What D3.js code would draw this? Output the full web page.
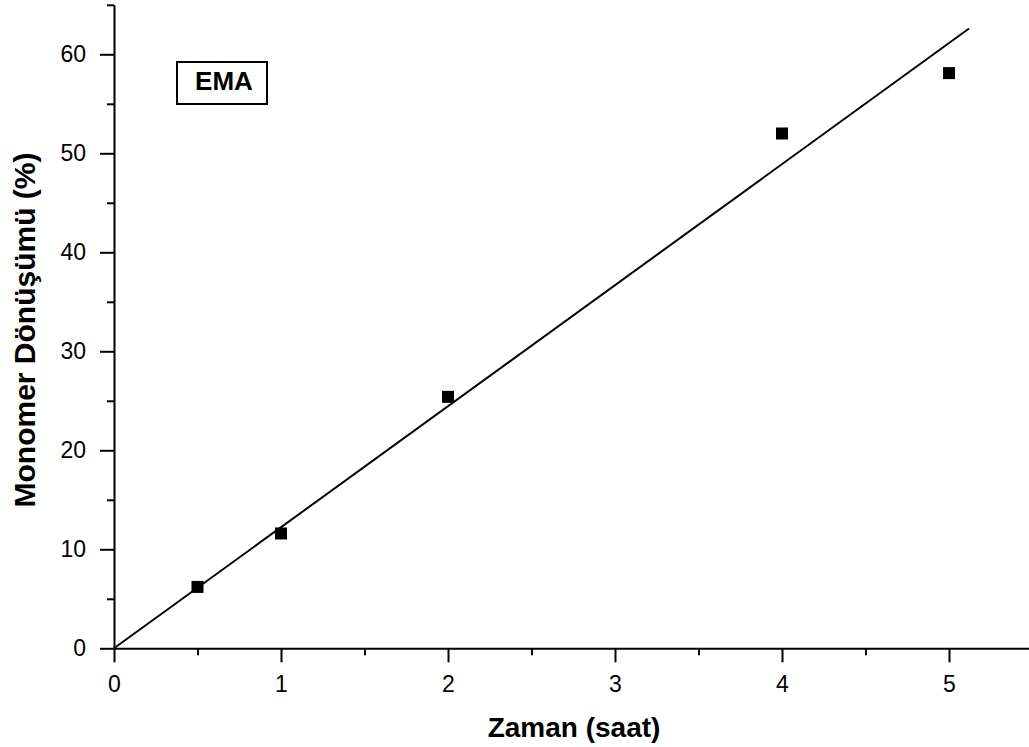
<!DOCTYPE html>
<html>
<head>
<meta charset="utf-8">
<script src="https://cdn.jsdelivr.net/npm/d3@7"></script>
<style>
  body { margin: 0; background: #fff; }
  svg { display: block; font-family: Arial, "Liberation Sans", sans-serif; }
</style>
</head>
<body>
<div id="chart"></div>
<script>
// data
const times = [0.5, 1, 2, 4, 5];                 // Zaman (saat)
const conversion = [6.2, 11.6, 25.4, 52.0, 58.1]; // Monomer Dönüşümü (%)
const fitLine = [[0, 0], [5.12, 62.6]];           // fitted line through origin
const xMajor = [0, 1, 2, 3, 4, 5];
const xMinor = [0.5, 1.5, 2.5, 3.5, 4.5, 5.5];
const yMajor = [0, 10, 20, 30, 40, 50, 60];
const yMinor = [5, 15, 25, 35, 45, 55, 65];

const width = 1029;
const height = 747;

const svg = d3.select("#chart")
  .append("svg")
  .attr("width", width)
  .attr("height", height);

svg.append("rect").attr("width", width).attr("height", height).attr("fill", "#fff");

// scales: x=0 at 114px, 167px per hour; y=0 at 648px, 9.9px per %
const x = d3.scaleLinear().domain([0, 5.5]).range([114, 114 + 5.5 * 167]);
const y = d3.scaleLinear().domain([0, 65]).range([648.3, 648.3 - 65 * 9.9]);

// minor ticks first (no labels)
svg.append("g")
  .attr("transform", `translate(0,${y(0)})`)
  .call(d3.axisBottom(x).tickValues(xMinor).tickSize(7).tickSizeOuter(0).tickFormat(""))
  .call(g => g.select(".domain").remove());

svg.append("g")
  .attr("transform", `translate(${x(0)},0)`)
  .call(d3.axisLeft(y).tickValues(yMinor).tickSize(7).tickSizeOuter(0).tickFormat(""))
  .call(g => g.select(".domain").remove());

// major axes
const xAxis = svg.append("g")
  .attr("transform", `translate(0,${y(0)})`)
  .call(d3.axisBottom(x).tickValues(xMajor).tickSize(14).tickSizeOuter(0).tickPadding(13).tickFormat(d3.format("d")));

const yAxis = svg.append("g")
  .attr("transform", `translate(${x(0)},0)`)
  .call(d3.axisLeft(y).tickValues(yMajor).tickSize(14).tickSizeOuter(0).tickPadding(14).tickFormat(d3.format("d")));

// x axis line also reaches left of the y axis a bit
svg.selectAll(".domain").attr("stroke", "#000").attr("stroke-width", 2);
svg.selectAll(".tick line").attr("stroke", "#000").attr("stroke-width", 2);
svg.selectAll(".tick text")
  .attr("fill", "#000")
  .style("font-size", "23px")
  .style("font-family", "Arial, 'Liberation Sans', sans-serif");

// fitted line
const line = d3.line().x(d => x(d[0])).y(d => y(d[1]));
svg.append("path")
  .datum(fitLine)
  .attr("d", line)
  .attr("fill", "none")
  .attr("stroke", "#000")
  .attr("stroke-width", 2);

// data points (filled squares)
const sq = 12;
svg.selectAll(".pt")
  .data(times.map((t, i) => [t, conversion[i]]))
  .enter()
  .append("rect")
  .attr("class", "pt")
  .attr("x", d => x(d[0]) - sq / 2)
  .attr("y", d => y(d[1]) - sq / 2)
  .attr("width", sq)
  .attr("height", sq)
  .attr("fill", "#000");

// EMA label box
svg.append("rect")
  .attr("x", 177).attr("y", 62)
  .attr("width", 90).attr("height", 42)
  .attr("fill", "none")
  .attr("stroke", "#000")
  .attr("stroke-width", 2);
svg.append("text")
  .attr("x", 224).attr("y", 90)
  .attr("text-anchor", "middle")
  .style("font-size", "26px")
  .style("font-weight", "bold")
  .text("EMA");

// axis titles
svg.append("text")
  .attr("x", 574).attr("y", 737)
  .attr("text-anchor", "middle")
  .style("font-size", "28px")
  .style("font-weight", "bold")
  .text("Zaman (saat)");

svg.append("text")
  .attr("transform", "translate(35,330) rotate(-90)")
  .attr("text-anchor", "middle")
  .style("font-size", "30px")
  .style("font-weight", "bold")
  .text("Monomer Dönüşümü (%)");
</script>
</body>
</html>
